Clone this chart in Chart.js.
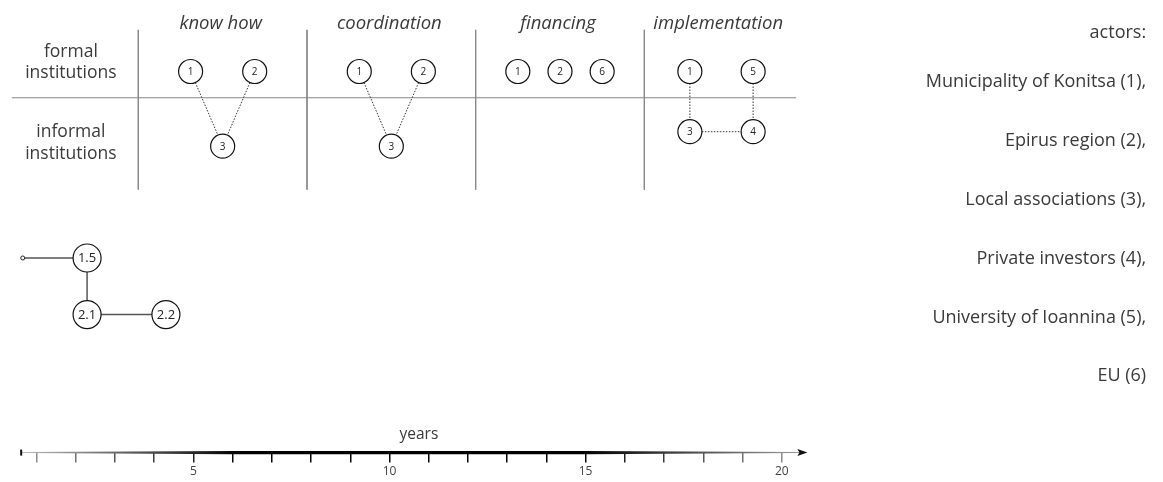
<!DOCTYPE html>
<html>
<head>
<meta charset="utf-8">
<script src="https://cdn.jsdelivr.net/npm/chart.js@4"></script>
<style>
  body { margin: 0; background: #fff; }
  canvas { display: block; }
</style>
</head>
<body>
<canvas id="chart" width="1163" height="482"></canvas>
<script>
// columns of the actor network, bounds in column units
const columns = ["know how", "coordination", "financing", "implementation"];
const columnBounds = [0, 1, 2, 3, 3.9];
const rowLabels = [["formal", "institutions"], ["informal", "institutions"]];

const actors = [
  "Municipality of Konitsa (1),",
  "Epirus region (2),",
  "Local associations (3),",
  "Private investors (4),",
  "University of Ioannina (5),",
  "EU (6)"
];

// nodes: [label, column x, y]
const knowHowNodes = [["1", 0.31, 15.8], ["2", 0.69, 15.8], ["3", 0.5, 32.3]];
const knowHowLinks = [["1", "3"], ["2", "3"]];
const coordinationNodes = [["1", 1.31, 15.8], ["2", 1.69, 15.8], ["3", 1.5, 32.3]];
const coordinationLinks = [["1", "3"], ["2", "3"]];
const financingNodes = [["1", 2.25, 15.8], ["2", 2.5, 15.8], ["6", 2.75, 15.8]];
const financingLinks = [];
const implementationNodes = [["1", 3.27, 15.8], ["5", 3.645, 15.8], ["3", 3.27, 29.1], ["4", 3.645, 29.1]];
const implementationLinks = [["1", "3"], ["5", "4"], ["3", "4"]];

// timeline nodes: [label, year, y]
const timelineNodes = [["1.5", 2.29, 57.0], ["2.1", 2.29, 69.5], ["2.2", 4.3, 69.5]];
const timelineStart = [0.65, 57.0];
const timelineLinks = [["start", "1.5"], ["1.5", "2.1"], ["2.1", "2.2"]];

const yearTicks = [1, 2, 3, 4, 5, 6, 7, 8, 9, 10, 11, 12, 13, 14, 15, 16, 17, 18, 19, 20];
const tickLabels = ["", "", "", "", "5", "", "", "", "", "10", "", "", "", "", "15", "", "", "", "", "20"];

const FONT = "'Open Sans', 'DejaVu Sans', sans-serif";

function nodeSet(nodes, axis, radius, size) {
  return {
    type: "scatter",
    xAxisID: axis,
    data: nodes.map(n => ({ x: n[1], y: n[2], label: n[0] })),
    pointRadius: radius,
    pointHoverRadius: radius,
    pointBackgroundColor: "#fff",
    pointBorderColor: "#111",
    pointBorderWidth: 1.2,
    showLine: false,
    labelSize: size,
    order: 1
  };
}

function linkSets(nodes, links, axis, style) {
  const find = id => nodes.find(n => n[0] === id);
  return links.map(l => {
    const a = find(l[0]), b = find(l[1]);
    return Object.assign({
      type: "line",
      xAxisID: axis,
      data: [{ x: a[1], y: a[2] }, { x: b[1], y: b[2] }],
      pointRadius: 0,
      fill: false,
      order: 2
    }, style);
  });
}

const dotted = { borderColor: "#333", borderWidth: 1, borderDash: [1.5, 1.5] };
const solid = { borderColor: "#555", borderWidth: 1.5 };
const rule = { borderColor: "#888", borderWidth: 1 };

const datasets = [];
// grid of the network table
datasets.push(Object.assign({ type: "line", xAxisID: "cx", data: [{ x: -0.75, y: 21.6 }, { x: columnBounds[4], y: 21.6 }], pointRadius: 0, order: 3 }, rule));
columnBounds.slice(0, 4).forEach(b => {
  datasets.push(Object.assign({ type: "line", xAxisID: "cx", data: [{ x: b, y: 6.6 }, { x: b, y: 41.9 }], pointRadius: 0, order: 3 }, rule));
});

[[knowHowNodes, knowHowLinks], [coordinationNodes, coordinationLinks],
 [financingNodes, financingLinks], [implementationNodes, implementationLinks]].forEach(([n, l]) => {
  datasets.push(...linkSets(n, l, "cx", dotted));
  datasets.push(nodeSet(n, "cx", 12, 10));
});

const tlAll = [["start", timelineStart[0], timelineStart[1]]].concat(timelineNodes);
datasets.push(...linkSets(tlAll, timelineLinks, "x", solid));
datasets.push(nodeSet(timelineNodes, "x", 14, 13));
datasets.push({
  type: "scatter", xAxisID: "x",
  data: [{ x: timelineStart[0], y: timelineStart[1] }],
  pointRadius: 2, pointBackgroundColor: "#fff", pointBorderColor: "#222", pointBorderWidth: 1, order: 1
});

function tickShade(v) {
  const t = Math.min(1, Math.abs(v - 10.5) / 9.5);
  const g = Math.round(Math.max(0, t - 0.45) / 0.55 * 140);
  return `rgb(${g},${g},${g})`;
}

const textPlugin = {
  id: "texts",
  beforeDatasetsDraw(chart) {
    const ctx = chart.ctx, x = chart.scales.x, y = chart.scales.y;
    // tapered years axis
    const y0 = y.bottom;
    const x0 = x.getPixelForValue(0.61), x1 = x.getPixelForValue(20.45);
    const xa = x.getPixelForValue(6), xb = x.getPixelForValue(15);
    const grad = ctx.createLinearGradient(x0, 0, x1, 0);
    grad.addColorStop(0, "#bbb");
    grad.addColorStop(0.28, "#000");
    grad.addColorStop(0.72, "#000");
    grad.addColorStop(1, "#999");
    ctx.save();
    ctx.fillStyle = grad;
    ctx.beginPath();
    ctx.moveTo(x0, y0 - 0.5);
    ctx.lineTo(xa, y0 - 1.6);
    ctx.lineTo(xb, y0 - 1.6);
    ctx.lineTo(x1, y0 - 0.5);
    ctx.lineTo(x1, y0 + 0.5);
    ctx.lineTo(xb, y0 + 1.6);
    ctx.lineTo(xa, y0 + 1.6);
    ctx.lineTo(x0, y0 + 0.5);
    ctx.closePath();
    ctx.fill();
    ctx.fillStyle = "#111";
    ctx.fillRect(x0 - 1, y0 - 3, 2, 6);
    ctx.beginPath();
    ctx.moveTo(x1 - 2, y0 - 3.5);
    ctx.lineTo(x1 + 8, y0);
    ctx.lineTo(x1 - 2, y0 + 3.5);
    ctx.lineTo(x1, y0);
    ctx.closePath();
    ctx.fill();
    ctx.restore();
  },
  afterDatasetsDraw(chart) {
    const ctx = chart.ctx, cx = chart.scales.cx, x = chart.scales.x, y = chart.scales.y;
    const dy = 2; // nudge text down to its visual centre
    ctx.save();
    ctx.fillStyle = "#3a3a3a";
    ctx.textBaseline = "middle";
    ctx.textAlign = "center";

    ctx.font = "italic 18.5px " + FONT;
    columns.forEach((c, i) => {
      ctx.fillText(c, cx.getPixelForValue((columnBounds[i] + columnBounds[i + 1]) / 2) - 2, y.getPixelForValue(4.86) + dy);
    });

    ctx.font = "17.5px " + FONT;
    [13.4, 31.1].forEach((ry, i) => {
      const py = y.getPixelForValue(ry) + dy;
      ctx.fillText(rowLabels[i][0], cx.getPixelForValue(-0.4), py - 10.8);
      ctx.fillText(rowLabels[i][1], cx.getPixelForValue(-0.4), py + 10.8);
    });

    ctx.textAlign = "right";
    ctx.font = "18px " + FONT;
    ctx.fillText("actors:", cx.getPixelForValue(5.975), y.getPixelForValue(6.84) + dy);
    actors.forEach((a, i) => {
      ctx.fillText(a, cx.getPixelForValue(5.975), y.getPixelForValue(17.7 + i * 13.0) + dy);
    });

    ctx.textAlign = "center";
    ctx.font = "15.5px " + FONT;
    ctx.fillText("years", x.getPixelForValue(10.75), y.getPixelForValue(95.8) + 1);

    // node labels
    chart.data.datasets.forEach((ds, i) => {
      if (!ds.labelSize) return;
      ctx.font = ds.labelSize + "px " + FONT;
      ctx.fillStyle = "#222";
      chart.getDatasetMeta(i).data.forEach((pt, j) => {
        ctx.fillText(ds.data[j].label, pt.x, pt.y + 0.5);
      });
    });
    ctx.restore();
  }
};

new Chart(document.getElementById("chart"), {
  data: { datasets },
  options: {
    responsive: false,
    animation: false,
    layout: { autoPadding: false, padding: { left: 0, right: 0, top: 0, bottom: 1 } },
    plugins: { legend: { display: false }, tooltip: { enabled: false } },
    events: [],
    scales: {
      x: {
        type: "linear",
        position: "bottom",
        min: 0.07,
        max: 29.72,
        afterBuildTicks: s => { s.ticks = yearTicks.map(v => ({ value: v })); },
        ticks: {
          autoSkip: false,
          maxRotation: 0,
          padding: 2,
          color: "#444",
          font: { family: FONT, size: 12 },
          callback: v => tickLabels[yearTicks.indexOf(v)]
        },
        grid: {
          drawOnChartArea: false,
          drawTicks: true,
          tickLength: 10,
          lineWidth: 1.5,
          color: c => tickShade(c.tick ? c.tick.value : 10)
        },
        border: { display: false }
      },
      cx: {
        type: "linear",
        axis: "x",
        display: false,
        min: -0.82,
        max: 6.075
      },
      y: {
        type: "linear",
        display: false,
        reverse: true,
        min: 0,
        max: 100
      }
    }
  },
  plugins: [textPlugin]
});
</script>
</body>
</html>
